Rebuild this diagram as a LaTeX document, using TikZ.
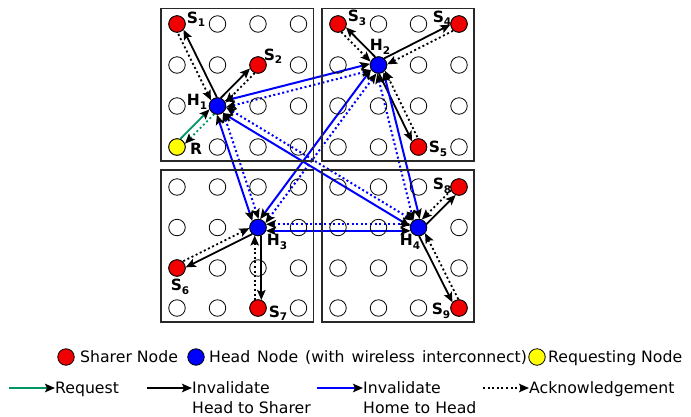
\documentclass[tikz,border=0pt]{standalone}
\usepackage{fontspec}
\setmainfont{DejaVu Sans}
\usetikzlibrary{calc,arrows.meta}
\definecolor{myred}{RGB}{240,0,0}
\definecolor{myblue}{RGB}{0,0,255}
\definecolor{myyellow}{RGB}{255,255,0}
\definecolor{mygreen}{RGB}{0,150,100}
\definecolor{frame}{RGB}{40,40,40}
\pgfdeclarelayer{bg}
\pgfsetlayers{bg,main}
\newcommand{\lkoff}{3.3pt}
% #1 solid style, #2 dotted style, #3 A, #4 B, #5/#6 rotation of dotted offset at A/B
\newcommand{\duo}[6]{%
  \draw[#1] ($(#3)!\lkoff!#6:(#4)$) -- ($(#4)!\lkoff!#5:(#3)$);
  \draw[#2] ($(#3)!\lkoff!#5:(#4)$) -- ($(#4)!\lkoff!#6:(#3)$);
}
\newcommand{\lsub}[1]{\raisebox{-3.5pt}{\fontsize{10.5}{10.5}\selectfont #1}}
\tikzset{
  mytip/.tip={Stealth[length=10pt,width=8.5pt,inset=2pt,color=black]},
  cell/.style={circle, draw=black, line width=0.8pt, minimum size=16.5pt, inner sep=0pt},
  sharer/.style={cell, fill=myred},
  headn/.style={cell, fill=myblue},
  reqn/.style={cell, fill=myyellow},
  lbl/.style={font=\fontsize{15.5}{18}\selectfont\bfseries, inner sep=0pt},
  link/.style={line width=1.8pt, shorten >=8pt, shorten <=8pt},
  dotpat/.style={dash pattern=on 2pt off 2.6pt},
  blk/.style={link, black, -mytip},
  blkdot/.style={link, black, dotpat, mytip-},
  grn/.style={link, mygreen, -mytip},
  grndot/.style={link, mygreen, dotpat, mytip-},
  blu/.style={link, myblue, line width=2pt, mytip-mytip},
  bludot/.style={link, myblue, line width=2pt, dotpat, mytip-mytip},
  boxframe/.style={draw=frame, line width=1.5pt},
  legtxt/.style={font=\fontsize{15.7}{20}\selectfont, inner sep=0pt, anchor=base west, align=left},
  legline/.style={line width=1.8pt, -mytip},
}
\begin{document}
\begin{tikzpicture}[x=1pt,y=-1pt]
\useasboundingbox (0,0) rectangle (691,416);
% frames
\draw[boxframe] (161,8.5) rectangle (313.5,161);
\draw[boxframe] (322,8.5) rectangle (474,161);
\draw[boxframe] (161,170) rectangle (313.5,322);
\draw[boxframe] (322,170) rectangle (474,322);
% grid
\foreach \x [count=\i] in {177,217.5,258,298.5,338,378.5,418.5,459}
  \foreach \y [count=\j] in {24,65,106,147,187,227.5,268,308}
    \node[cell] (c\i-\j) at (\x,\y) {};
% special nodes
\node[sharer] (S1) at (177,24) {};
\node[sharer] (S2) at (258,65) {};
\node[headn]  (H1) at (217.5,106) {};
\node[reqn]   (R)  at (177,147) {};
\node[sharer] (S3) at (338,24) {};
\node[sharer] (S4) at (459,24) {};
\node[headn]  (H2) at (378.5,65) {};
\node[sharer] (S5) at (418.5,147) {};
\node[headn]  (H3) at (258,227.5) {};
\node[sharer] (S6) at (177,268) {};
\node[sharer] (S7) at (258,308) {};
\node[headn]  (H4) at (418.5,227.5) {};
\node[sharer] (S8) at (459,187) {};
\node[sharer] (S9) at (459,308) {};
% labels
\node[lbl] (tS1) at (196,19) {S\lsub{1}};
\node[lbl] (tS2) at (273,56) {S\lsub{2}};
\node[lbl] (tH1) at (197,102) {H\lsub{1}};
\node[lbl] (tR)  at (196,149) {R};
\node[lbl] (tS3) at (357,18) {S\lsub{3}};
\node[lbl] (tS4) at (442,18) {S\lsub{4}};
\node[lbl] (tH2) at (380,47) {H\lsub{2}};
\node[lbl] (tS5) at (438,149) {S\lsub{5}};
\node[lbl] (tH3) at (277,242) {H\lsub{3}};
\node[lbl] (tS6) at (180,287) {S\lsub{6}};
\node[lbl] (tS7) at (278,313) {S\lsub{7}};
\node[lbl] (tH4) at (410,242) {H\lsub{4}};
\node[lbl] (tS8) at (442,186) {S\lsub{8}};
\node[lbl] (tS9) at (441,311) {S\lsub{9}};
% links
\begin{pgfonlayer}{bg}
\duo{blk}{blkdot}{H1}{S1}{90}{-90}
\duo{blk}{blkdot}{H1}{S2}{-90}{90}
\duo{grn}{grndot}{R}{H1}{-90}{90}
\duo{blk}{blkdot}{H2}{S3}{90}{-90}
\duo{blk}{blkdot}{H2}{S4}{-90}{90}
\duo{blk}{blkdot}{H2}{S5}{90}{-90}
\duo{blk}{blkdot}{H3}{S6}{-90}{90}
\duo{blk}{blkdot}{H3}{S7}{-90}{90}
\duo{blk}{blkdot}{H4}{S8}{90}{-90}
\duo{blk}{blkdot}{H4}{S9}{90}{-90}
\duo{blu}{bludot}{H1}{H2}{-90}{90}
\duo{blu}{bludot}{H1}{H3}{90}{-90}
\duo{blu}{bludot}{H1}{H4}{90}{-90}
\duo{blu}{bludot}{H2}{H3}{90}{-90}
\duo{blu}{bludot}{H2}{H4}{-90}{90}
\duo{blu}{bludot}{H3}{H4}{90}{-90}
\end{pgfonlayer}
% legend
\node[cell, fill=myred]    (lg1) at (66,357) {};
\node[legtxt] (lt1) at (80,362) {Sharer Node};
\node[cell, fill=myblue]   (lg2) at (196,357) {};
\node[legtxt] (lt2) at (209,362) {\spaceskip=7pt Head Node (with wireless interconnect)};
\node[cell, fill=myyellow] (lg3) at (537,357) {};
\node[legtxt] (lt3) at (548,362) {Requesting Node};
\node[legtxt] (lr1) at (55,393) {Request};
\node[legtxt] (lr2) at (192,413) {Invalidate\\Head to Sharer};
\node[legtxt] (lr3) at (363,413) {Invalidate\\Home to Head};
\node[legtxt] (lr4) at (529,393) {Acknowledgement};
\coordinate (la1) at (9,388);
\coordinate (la2) at (147,388);
\coordinate (la3) at (317,388);
\coordinate (la4) at (483,388);
\draw[legline, mygreen] (la1) -- (la1 -| lr1.west);
\draw[legline, black] (la2) -- (la2 -| lr2.west);
\draw[legline, myblue] (la3) -- (la3 -| lr3.west);
\draw[legline, black, dotpat] (la4) -- (la4 -| lr4.west);
\end{tikzpicture}
\end{document}
